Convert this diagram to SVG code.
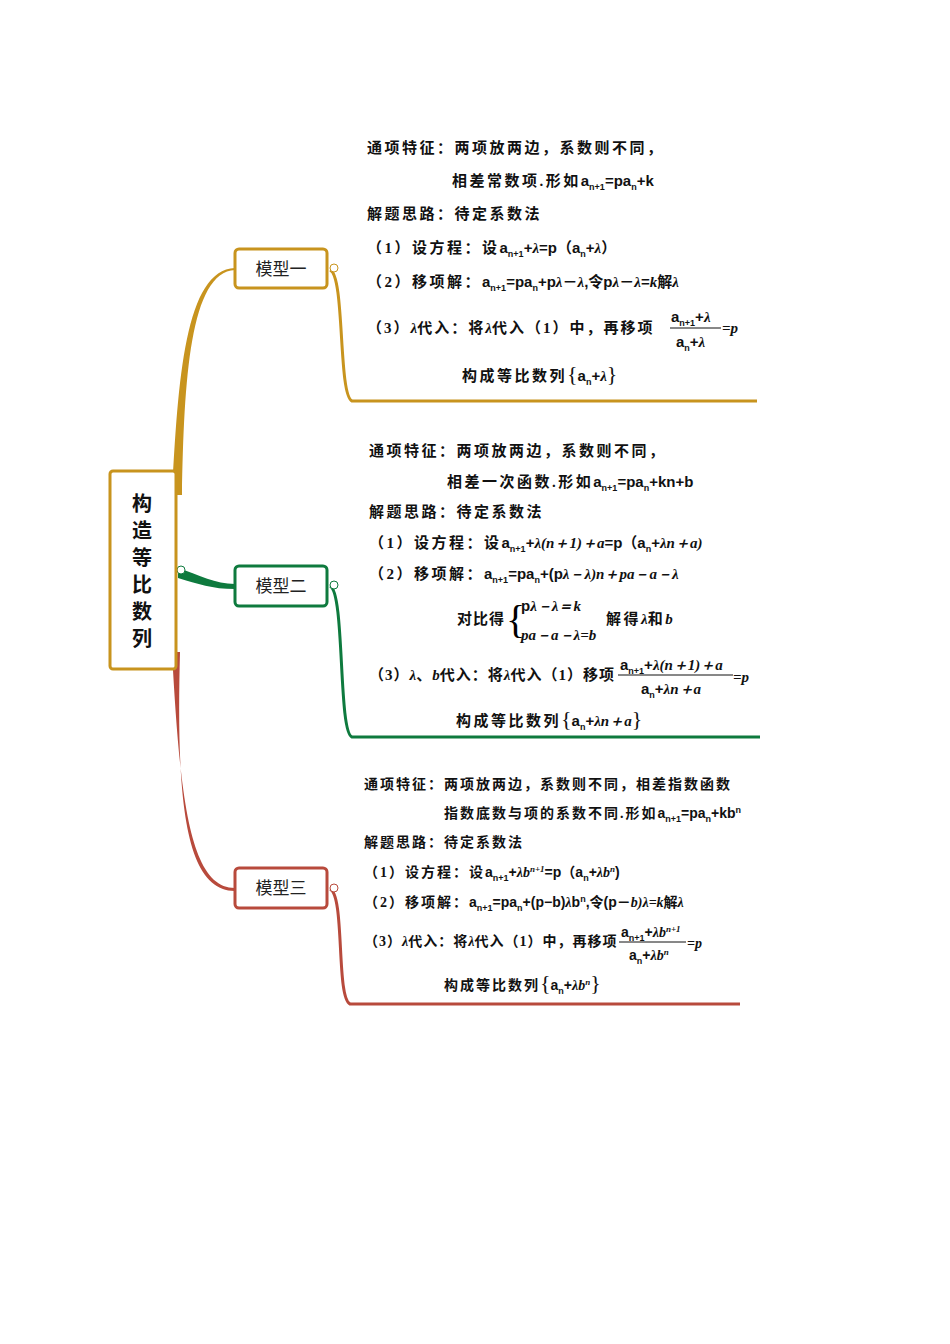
<svg xmlns="http://www.w3.org/2000/svg" width="950" height="1344" viewBox="0 0 950 1344">
<style>
.t{font-family:"Liberation Serif","Noto Sans CJK SC",serif;font-size:15px;font-weight:bold;fill:#111;letter-spacing:2.5px}
.m{font-family:"Liberation Sans","Noto Sans CJK SC",sans-serif;font-size:15px;font-weight:bold;fill:#111;letter-spacing:0}
.s{font-size:9px}
.i{font-style:italic;font-family:"Liberation Serif",serif;letter-spacing:0}
.node{fill:#fff;stroke-width:3}
.lbl{font-family:"Noto Sans CJK SC",sans-serif;font-size:17px;fill:#222}
.sm{font-size:14px;letter-spacing:2px}
.br{font-family:"Liberation Serif",serif;font-size:20px;font-weight:normal;letter-spacing:0}
</style>
<rect width="950" height="1344" fill="#fff"/>
<g id="connectors" fill="none">
<path d="M172,495 C178,380 185,270 235,268 L235,270 C190,272 184,380 182,495 Z" fill="#C8941E"/>
<path d="M178,568 C200,575 215,584 235,584 L235,589 C212,589 198,584 178,578 Z" fill="#0E7A3E"/>
<path d="M172,652 C180,800 190,888 235,888 L235,891 C185,891 176,800 180,652 Z" fill="#B84A3C"/>
<path d="M330,270 C345,275 338,395 352,401 L757,401" stroke="#C8941E" stroke-width="3"/>
<path d="M330,586 C345,592 338,732 352,737 L760,737" stroke="#0E7A3E" stroke-width="3"/>
<path d="M330,889 C345,895 336,998 350,1004 L740,1004" stroke="#B84A3C" stroke-width="3"/>
<circle cx="334" cy="268" r="4" fill="#fff" stroke="#C8941E"/>
<circle cx="334" cy="585" r="4" fill="#fff" stroke="#0E7A3E"/>
<circle cx="334" cy="888" r="4" fill="#fff" stroke="#B84A3C"/>
<circle cx="181" cy="570" r="4" fill="#fff" stroke="#0E7A3E"/>
</g>
<g id="center">
<rect x="110" y="471" width="66" height="198" rx="3" class="node" stroke="#C8941E" stroke-width="4"/>
<text x="142" y="511" font-family="Noto Sans CJK SC,sans-serif" font-size="20" font-weight="bold" text-anchor="middle" fill="#111">构</text>
<text x="142" y="538" font-family="Noto Sans CJK SC,sans-serif" font-size="20" font-weight="bold" text-anchor="middle" fill="#111">造</text>
<text x="142" y="565" font-family="Noto Sans CJK SC,sans-serif" font-size="20" font-weight="bold" text-anchor="middle" fill="#111">等</text>
<text x="142" y="592" font-family="Noto Sans CJK SC,sans-serif" font-size="20" font-weight="bold" text-anchor="middle" fill="#111">比</text>
<text x="142" y="619" font-family="Noto Sans CJK SC,sans-serif" font-size="20" font-weight="bold" text-anchor="middle" fill="#111">数</text>
<text x="142" y="646" font-family="Noto Sans CJK SC,sans-serif" font-size="20" font-weight="bold" text-anchor="middle" fill="#111">列</text>
</g>
<g id="model1">
<rect x="235" y="249" width="92" height="39" rx="4" class="node" stroke="#C8941E"/>
<text x="281" y="275" class="lbl" text-anchor="middle">模型一</text>
</g>
<g id="model2">
<rect x="235" y="566" width="92" height="40" rx="4" class="node" stroke="#0E7A3E"/>
<text x="281" y="592" class="lbl" text-anchor="middle">模型二</text>
</g>
<g id="model3">
<rect x="235" y="868" width="92" height="40" rx="4" class="node" stroke="#B84A3C"/>
<text x="281" y="894" class="lbl" text-anchor="middle">模型三</text>
</g>
<g id="text1">
<text x="367" y="153" class="t">通项特征：两项放两边，系数则不同，</text>
<text x="452" y="186" class="t">相差常数项.形如<tspan class="m">a<tspan class="s" dy="4">n+1</tspan><tspan dy="-4">=pa</tspan><tspan class="s" dy="4">n</tspan><tspan dy="-4">+k</tspan></tspan></text>
<text x="367" y="219" class="t">解题思路：待定系数法</text>
<text x="367" y="253" class="t">（1）设方程：设<tspan class="m">a<tspan class="s" dy="4">n+1</tspan><tspan dy="-4">+</tspan><tspan class="i">λ</tspan>=p（a<tspan class="s" dy="4">n</tspan><tspan dy="-4">+</tspan><tspan class="i">λ</tspan>）</tspan></text>
<text x="367" y="287" class="t">（2）移项解：<tspan class="m">a<tspan class="s" dy="4">n+1</tspan><tspan dy="-4">=pa</tspan><tspan class="s" dy="4">n</tspan><tspan dy="-4">+p</tspan><tspan class="i">λ</tspan>－<tspan class="i">λ</tspan>,令p<tspan class="i">λ</tspan>－<tspan class="i">λ</tspan>=<tspan class="i">k</tspan>解<tspan class="i">λ</tspan></tspan></text>
<text x="367" y="333" class="t" style="letter-spacing:2px">（3）<tspan class="i">λ</tspan>代入：将<tspan class="i">λ</tspan>代入（1）中，再移项</text>
<text x="671" y="322" class="m">a<tspan class="s" dy="4">n+1</tspan><tspan dy="-4">+</tspan><tspan class="i">λ</tspan></text>
<line x1="670" y1="328" x2="721" y2="328" stroke="#111"/>
<text x="676" y="347" class="m">a<tspan class="s" dy="4">n</tspan><tspan dy="-4">+</tspan><tspan class="i">λ</tspan></text>
<text x="722" y="333" class="m"><tspan class="i">=p</tspan></text>
<text x="462" y="381" class="t">构成等比数列<tspan class="br" style="font-size:22px">{</tspan><tspan class="m">a<tspan class="s" dy="4">n</tspan><tspan dy="-4">+</tspan><tspan class="i">λ</tspan></tspan><tspan class="br" style="font-size:22px">}</tspan></text>
</g>
<g id="text2">
<text x="369" y="456" class="t">通项特征：两项放两边，系数则不同，</text>
<text x="447" y="487" class="t">相差一次函数.形如<tspan class="m">a<tspan class="s" dy="4">n+1</tspan><tspan dy="-4">=pa</tspan><tspan class="s" dy="4">n</tspan><tspan dy="-4">+kn+b</tspan></tspan></text>
<text x="369" y="517" class="t">解题思路：待定系数法</text>
<text x="369" y="548" class="t">（1）设方程：设<tspan class="m">a<tspan class="s" dy="4">n+1</tspan><tspan dy="-4">+</tspan></tspan><tspan class="i">λ(n＋1)＋a</tspan><tspan class="m">=p（a<tspan class="s" dy="4">n</tspan><tspan dy="-4">+</tspan></tspan><tspan class="i">λn＋a</tspan><tspan class="i">)</tspan></text>
<text x="369" y="579" class="t">（2）移项解：<tspan class="m">a<tspan class="s" dy="4">n+1</tspan><tspan dy="-4">=pa</tspan><tspan class="s" dy="4">n</tspan><tspan dy="-4">+(p</tspan></tspan><tspan class="i">λ－λ)n＋pa－a－λ</tspan></text>
<text x="457" y="624" class="t" style="letter-spacing:1px">对比得</text>
<text x="506" y="633" class="br" style="font-size:40px">{</text>
<text x="521" y="611" class="m">p<tspan class="i">λ－λ＝k</tspan></text>
<text x="521" y="640" class="t"><tspan class="i">pa－a－λ=b</tspan></text>
<text x="606" y="624" class="t">解得<tspan class="i">λ</tspan>和<tspan class="i">b</tspan></text>
<text x="369" y="680" class="t" style="letter-spacing:1px">（3）<tspan class="i">λ</tspan>、<tspan class="i">b</tspan>代入：将<tspan class="i">λ</tspan>代入（1）移项</text>
<text x="620" y="670" class="m">a<tspan class="s" dy="4">n+1</tspan><tspan dy="-4">+</tspan><tspan class="i">λ(n＋1)＋a</tspan></text>
<line x1="618" y1="675" x2="733" y2="675" stroke="#111"/>
<text x="641" y="694" class="m">a<tspan class="s" dy="4">n</tspan><tspan dy="-4">+</tspan><tspan class="i">λn＋a</tspan></text>
<text x="733" y="682" class="m"><tspan class="i">=p</tspan></text>
<text x="456" y="726" class="t">构成等比数列<tspan class="br" style="font-size:22px">{</tspan><tspan class="m">a<tspan class="s" dy="4">n</tspan><tspan dy="-4">+</tspan></tspan><tspan class="i">λn＋a</tspan><tspan class="br" style="font-size:22px">}</tspan></text>
</g>
<g id="text3">
<text x="364" y="789" class="t sm">通项特征：两项放两边，系数则不同，相差指数函数</text>
<text x="444" y="818" class="t sm">指数底数与项的系数不同.形如<tspan class="m" style="font-size:14px">a<tspan class="s" dy="4">n+1</tspan><tspan dy="-4">=pa</tspan><tspan class="s" dy="4">n</tspan><tspan dy="-4">+kb</tspan><tspan class="s" dy="-5">n</tspan></tspan></text>
<text x="364" y="847" class="t sm">解题思路：待定系数法</text>
<text x="364" y="877" class="t sm">（1）设方程：设<tspan class="m" style="font-size:14px">a<tspan class="s" dy="4">n+1</tspan><tspan dy="-4">+</tspan><tspan class="i">λb</tspan><tspan class="s i" dy="-5">n+1</tspan><tspan dy="5">=p（a</tspan><tspan class="s" dy="4">n</tspan><tspan dy="-4">+</tspan><tspan class="i">λb</tspan><tspan class="s i" dy="-5">n</tspan><tspan dy="5">)</tspan></tspan></text>
<text x="364" y="907" class="t sm">（2）移项解：<tspan class="m" style="font-size:14px">a<tspan class="s" dy="4">n+1</tspan><tspan dy="-4">=pa</tspan><tspan class="s" dy="4">n</tspan><tspan dy="-4">+(p−b)</tspan><tspan class="i">λ</tspan>b<tspan class="s" dy="-5">n</tspan><tspan dy="5">,令(p－</tspan><tspan class="i">b)λ=k</tspan>解<tspan class="i">λ</tspan></tspan></text>
<text x="364" y="946" class="t sm" style="letter-spacing:1px">（3）<tspan class="i">λ</tspan>代入：将<tspan class="i">λ</tspan>代入（1）中，再移项</text>
<text x="621" y="937" class="m" style="font-size:14px">a<tspan class="s" dy="4">n+1</tspan><tspan dy="-4">+</tspan><tspan class="i">λb</tspan><tspan class="s i" dy="-5">n+1</tspan></text>
<line x1="619" y1="942" x2="686" y2="942" stroke="#111"/>
<text x="629" y="960" class="m" style="font-size:14px">a<tspan class="s" dy="4">n</tspan><tspan dy="-4">+</tspan><tspan class="i">λb</tspan><tspan class="s i" dy="-5">n</tspan></text>
<text x="687" y="948" class="m" style="font-size:14px"><tspan class="i">=p</tspan></text>
<text x="444" y="990" class="t sm">构成等比数列<tspan class="br" style="font-size:22px">{</tspan><tspan class="m" style="font-size:14px">a<tspan class="s" dy="4">n</tspan><tspan dy="-4">+</tspan><tspan class="i">λb</tspan><tspan class="s i" dy="-5">n</tspan></tspan><tspan class="br" style="font-size:22px" dy="5">}</tspan></text>
</g>
</svg>
